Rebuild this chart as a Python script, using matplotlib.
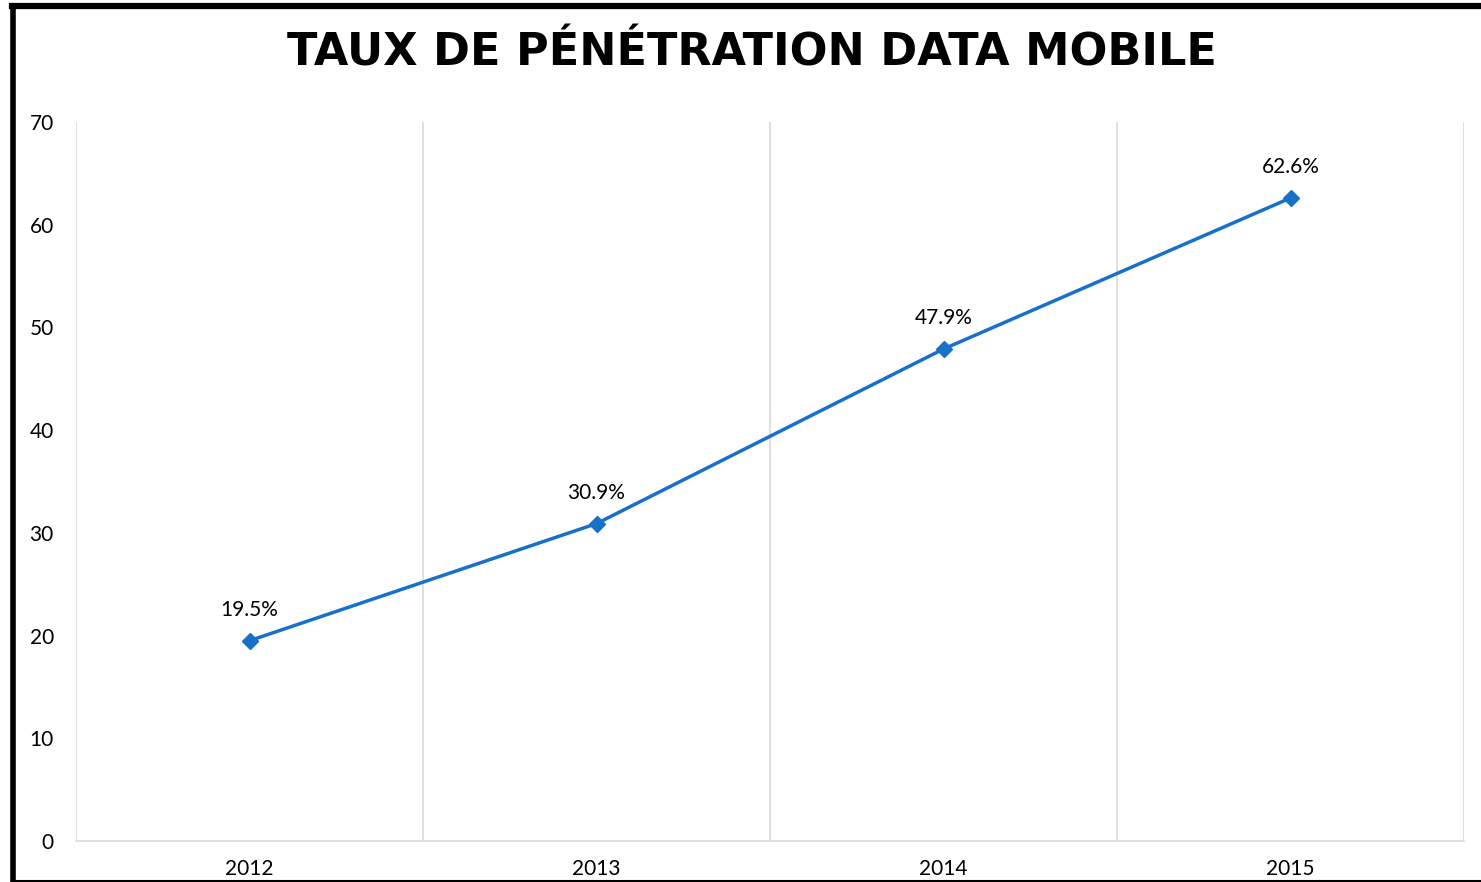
import numpy as np
import matplotlib
matplotlib.use('Agg')
import matplotlib.pyplot as plt
from matplotlib.lines import Line2D

# data
years = ['2012', '2013', '2014', '2015']
taux = [19.5, 30.9, 47.9, 62.6]
labels = ['19.5%', '30.9%', '47.9%', '62.6%']
yticks = [0, 10, 20, 30, 40, 50, 60, 70]

plt.rcParams['font.family'] = ['Lato', 'DejaVu Sans']

W, H = 1481, 882
fig = plt.figure(figsize=(W / 100, H / 100), dpi=100)
ax = fig.add_axes([76 / W, 1 - 841 / H, (1464 - 76) / W, (841 - 122) / H])

x = np.arange(len(years))
blue = '#1870c8'
ax.plot(x, taux, color=blue, lw=2.5, marker='D', ms=8.5, zorder=3)
for xi, v, lab in zip(x, taux, labels):
    ax.annotate(lab, (xi, v), xytext=(0, 15), textcoords='offset points',
                ha='center', va='bottom', fontsize=15, color='black')

ax.set_xlim(-0.5, len(years) - 0.5)
ax.set_ylim(0, 70)
ax.set_yticks(yticks)
ax.set_xticks(x)
ax.set_xticklabels(years)
ax.tick_params(axis='both', length=0, labelsize=15, colors='black')
ax.tick_params(axis='y', pad=16)
ax.tick_params(axis='x', pad=13)

# vertical separators between categories
for b in np.arange(-0.5, len(years), 1.0):
    ax.axvline(b, color='#d9d9d9', lw=1.2, zorder=1)
for s in ['top', 'right', 'left']:
    ax.spines[s].set_visible(False)
ax.spines['bottom'].set_color('#d9d9d9')
ax.spines['bottom'].set_linewidth(1.2)

fig.text(752 / W, 1 - 53 / H, 'TAUX DE PÉNÉTRATION DATA MOBILE', ha='center', va='center',
         fontsize=32, fontweight='bold', family='DejaVu Sans', color='black')

# thick frame (top / left) and thin bottom edge
fig.add_artist(Line2D([12 / W, 1], [1 - 6 / H, 1 - 6 / H], color='black', lw=4.5, transform=fig.transFigure))
fig.add_artist(Line2D([12.5 / W, 12.5 / W], [0, 1 - 6 / H], color='black', lw=4, transform=fig.transFigure))
fig.add_artist(Line2D([12 / W, 1], [1 - 880.5 / H, 1 - 880.5 / H], color='black', lw=1.5, transform=fig.transFigure))

fig.savefig('out.png', dpi=100)
